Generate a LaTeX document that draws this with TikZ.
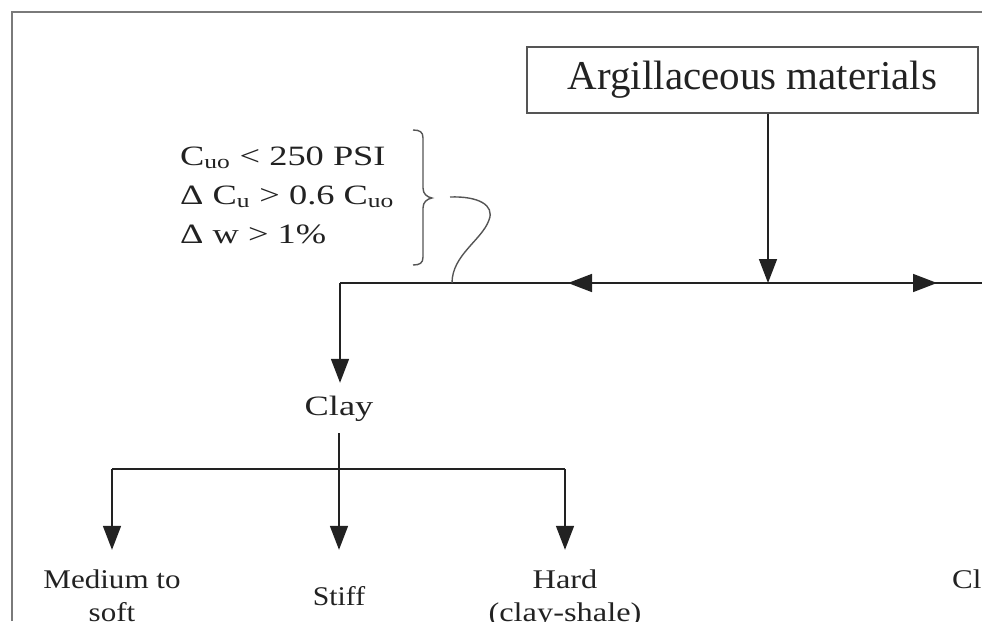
\documentclass[tikz,border=0pt]{standalone}
\usepackage{fontspec}
\setmainfont{Liberation Serif}
\usepackage{graphicx}
\usetikzlibrary{arrows.meta}
\definecolor{ln}{HTML}{222222}
\definecolor{fr}{HTML}{7A7A7A}
\definecolor{bx}{HTML}{555555}
\newcommand{\fbig}{\fontsize{41}{48}\selectfont}
\newcommand{\fcond}{\fontsize{28}{39}\selectfont}
\newcommand{\fclay}{\fontsize{28}{34}\selectfont}
\newcommand{\flab}{\fontsize{27}{33}\selectfont}
\begin{document}
\begin{tikzpicture}[x=1pt,y=-1pt,
  conn/.style={draw=ln, line width=1.6pt},
  arr/.style={conn, -{Triangle[length=24pt,width=18pt]}},
  lbl/.style={inner sep=0pt, anchor=base, text=ln},
  boxnode/.style={draw=bx, line width=1.5pt, minimum width=451pt, minimum height=66pt, inner sep=0pt, text=ln},
  brace/.style={draw=bx, line width=1.4pt},
]
\useasboundingbox (0,0) rectangle (982,621);
% frame
\draw[fr, line width=2.2pt] (12,621) -- (12,12) -- (982,12);

% nodes
\node[boxnode] (arg) at (752.5,80) {\fbig Argillaceous materials};
\node[lbl, anchor=base west] (cond) at (180,165)
  {\fcond\scalebox{1.3}[1]{\begin{tabular}[t]{@{}l@{}}C\textsubscript{uo} < 250 PSI\\ Δ C\textsubscript{u} > 0.6 C\textsubscript{uo}\\ Δ w > 1\%\end{tabular}}};
\node[lbl, text height=32pt, text depth=18pt] (clay) at (339,415) {\fclay\scalebox{1.3}[1]{Clay}};
\node[lbl, text height=38pt] (medium) at (112,588)
  {\flab\scalebox{1.15}[1]{\begin{tabular}[t]{@{}c@{}}Medium to\\ soft\end{tabular}}};
\node[lbl, text height=55pt] (stiff) at (339,605) {\flab\scalebox{1.1}[1]{Stiff}};
\node[lbl, text height=38pt] (hard) at (565,588)
  {\flab\scalebox{1.2}[1]{\begin{tabular}[t]{@{}c@{}}Hard\\ (clay-shale)\end{tabular}}};
\node[lbl, anchor=base west] (cl) at (952,588) {\flab\scalebox{1.15}[1]{Cl}};

% coordinates
\coordinate (j) at (768,283);
\coordinate (lcorner) at (340,283);
\coordinate (lend) at (982,283);
\coordinate (ltip) at (568,283);
\coordinate (rtip) at (937,283);
\coordinate (sq) at (452,283);
\coordinate (bj) at (339,469);
\coordinate (bl) at (112,469);
\coordinate (br) at (565,469);

% top connectors
\draw[arr] (arg.south -| j) -- (j);
\draw[conn] (lcorner) -- (lend);
\draw[arr] (j) -- (ltip);
\draw[arr] (j) -- (rtip);
\draw[arr] (lcorner) -- (clay.north -| lcorner);

% brace
\draw[brace] (413,130) .. controls (420,130) and (423,132) .. (423,138) -- (423,188)
  .. controls (423,194) and (427,197) .. (432,198)
  .. controls (427,199) and (423,202) .. (423,208) -- (423,257)
  .. controls (423,263) and (420,265) .. (413,265);
% squiggle
\draw[brace] (450,197) .. controls (478,196) and (495,205) .. (489,220)
  .. controls (482,240) and (452,255) .. (sq);

% bottom connectors
\draw[conn] (clay.south) -- (bj);
\draw[conn] (bl) -- (br);
\draw[arr] (bl) -- (medium.north);
\draw[arr] (bj) -- (stiff.north);
\draw[arr] (br) -- (hard.north);
\end{tikzpicture}
\end{document}
